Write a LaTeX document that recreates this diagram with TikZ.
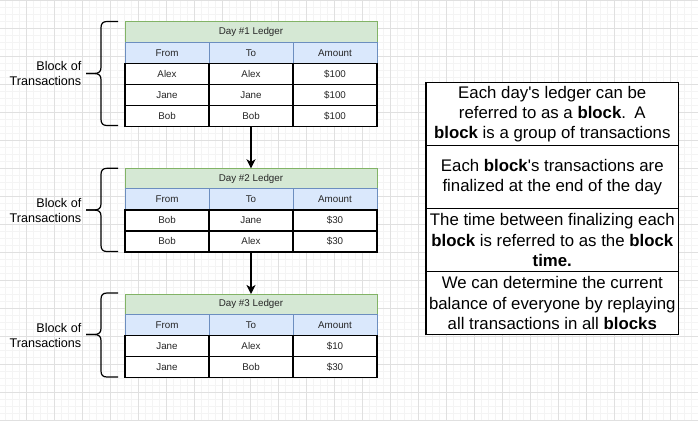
\documentclass[tikz,border=0pt]{standalone}
\usepackage{fontspec}
\setmainfont{Liberation Sans}[Ligatures=TeXOff]
\usetikzlibrary{arrows.meta}
\definecolor{titlefill}{HTML}{D5E8D4}
\definecolor{titleline}{HTML}{82B366}
\definecolor{headfill}{HTML}{DAE8FC}
\definecolor{headline}{HTML}{6C8EBF}
\definecolor{gridminor}{HTML}{F4F4F4}
\definecolor{gridmajor}{HTML}{E0E0E0}

% one ledger: #1 name, #2 top edge, #3 title, #4 rows as from/to/amount
\newcommand\ledgertable[4]{%
  \node[titlecell] (#1-title) at (125,#2) {#3};
  \node[headcell] (#1-h1) at (125,#2+20.5) {From};
  \node[headcell] (#1-h2) at (209,#2+20.5) {To};
  \node[headcell] (#1-h3) at (293,#2+20.5) {Amount};
  \foreach \a/\b/\c [count=\r] in {#4} {
    \node[datacell] (#1-r\r-1) at (125,#2+20.5+21*\r) {\a};
    \node[datacell] (#1-r\r-2) at (209,#2+20.5+21*\r) {\b};
    \node[datacell] (#1-r\r-3) at (293,#2+20.5+21*\r) {\c};
  }%
}
% curly brace opening to the right: #1 top, #2 bottom, #3 tip height
\newcommand\curlybrace[3]{%
  \draw[bracestyle] (118,#1) -- (107,#1)
    .. controls (103,#1) and (101,#1+2) .. (101,#1+6) -- (101,#3-6)
    .. controls (101,#3-2) and (99,#3) .. (94,#3) -- (86,#3);
  \draw[bracestyle] (86,#3) -- (94,#3)
    .. controls (99,#3) and (101,#3+2) .. (101,#3+6) -- (101,#2-6)
    .. controls (101,#2-2) and (103,#2) .. (107,#2) -- (118,#2);
}

\begin{document}
\begin{tikzpicture}[x=1pt,y=-1pt,
  cell/.style={rectangle, minimum width=84pt, minimum height=21pt,
    inner sep=0pt, outer sep=0pt, anchor=north west,
    font=\fontsize{9.8}{11}\selectfont, text=black!85},
  titlecell/.style={cell, minimum width=252pt, minimum height=20.5pt,
    fill=titlefill, draw=titleline, line width=1pt},
  headcell/.style={cell, fill=headfill, draw=headline, line width=1pt},
  datacell/.style={cell, fill=white, draw=black, line width=1.4pt},
  bracestyle/.style={draw=black, line width=1.2pt},
  blocklabel/.style={anchor=east, align=right, inner sep=0pt,
    font=\fontsize{12.6}{15}\selectfont},
  flow/.style={draw=black, line width=1.6pt,
    -{Stealth[length=9pt, width=9pt, inset=2.5pt]}},
  notebox/.style={rectangle, draw=black, line width=1.4pt, fill=white,
    minimum width=252.7pt, minimum height=63pt, inner sep=0pt, outer sep=0pt,
    align=center, font=\fontsize{16.8}{20.3}\selectfont},
]
\useasboundingbox (0,0) rectangle (698,420);
\fill[white] (0,0) rectangle (698,420);

% background grid
\begin{scope}
  \clip (0,0) rectangle (698,420);
  \foreach \x in {5.5,12.5,...,700} \draw[gridminor, line width=0.8pt] (\x,0) -- (\x,420);
  \foreach \y in {7.3,14.3,...,422} \draw[gridminor, line width=0.8pt] (0,\y) -- (698,\y);
  \foreach \x in {26.5,54.5,...,700} \draw[gridmajor, line width=0.9pt] (\x,0) -- (\x,420);
  \foreach \y in {0.3,28.3,...,422} \draw[gridmajor, line width=0.9pt] (0,\y) -- (698,\y);
\end{scope}

% ledgers
\ledgertable{t1}{22}{Day \#1 Ledger}{Alex/Alex/\$100, Jane/Jane/\$100, Bob/Bob/\$100}
\ledgertable{t2}{168.3}{Day \#2 Ledger}{Bob/Jane/\$30, Bob/Alex/\$30}
\ledgertable{t3}{294}{Day \#3 Ledger}{Jane/Alex/\$10, Jane/Bob/\$30}

% chain of ledgers
\draw[flow] (t1-r3-2.south) -- (t2-title.north);
\draw[flow] (t2-r2-2.south) -- (t3-title.north);

% braces and their labels
\curlybrace{21.5}{125.5}{73.5}
\curlybrace{168.3}{251.5}{210}
\curlybrace{293}{377}{334.5}
\node[blocklabel] (l1) at (81.5,73.5) {Block of\\Transactions};
\node[blocklabel] (l2) at (81.5,210) {Block of\\Transactions};
\node[blocklabel] (l3) at (81.5,335) {Block of\\Transactions};

% explanation boxes
\node[notebox, anchor=north] (n1) at (552.3,82.7)
  {Each day's ledger can be\\referred to as a \textbf{block}.\enspace A\\\textbf{block} is a group of transactions};
\node[notebox, anchor=north] (n2) at (n1.south)
  {Each \textbf{block}'s transactions are\\finalized at the end of the day};
\node[notebox, anchor=north] (n3) at (n2.south)
  {The time between finalizing each\\\textbf{block} is referred to as the \textbf{block}\\\textbf{time.}};
\node[notebox, anchor=north] (n4) at (n3.south)
  {We can determine the current\\balance of everyone by replaying\\all transactions in all \textbf{blocks}};
\end{tikzpicture}
\end{document}
